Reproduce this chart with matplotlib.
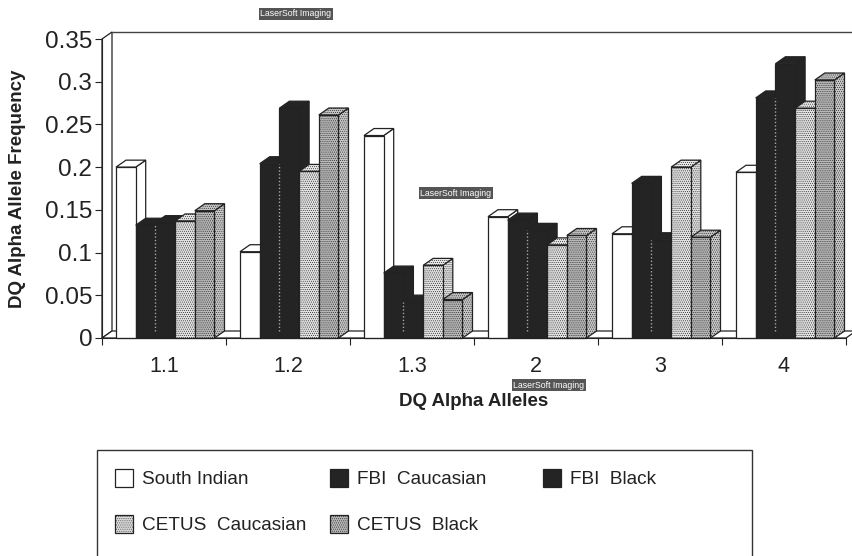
import matplotlib
matplotlib.use("Agg")
import matplotlib.pyplot as plt
from matplotlib.patches import Polygon, Rectangle

plt.rcParams["font.family"] = ["Liberation Sans", "DejaVu Sans"]
plt.rcParams["hatch.linewidth"] = 0.4

W, H = 853, 556

alleles = ["1.1", "1.2", "1.3", "2", "3", "4"]
south_indian = [0.200, 0.101, 0.237, 0.142, 0.122, 0.194]
fbi_caucasian = [0.132, 0.204, 0.076, 0.138, 0.181, 0.281]
fbi_black = [0.135, 0.269, 0.042, 0.126, 0.115, 0.321]
cetus_caucasian = [0.137, 0.195, 0.085, 0.109, 0.200, 0.269]
cetus_black = [0.149, 0.261, 0.045, 0.120, 0.118, 0.302]

series_names = ["South Indian", "FBI  Caucasian", "FBI  Black",
                "CETUS  Caucasian", "CETUS  Black"]
series_values = [south_indian, fbi_caucasian, fbi_black, cetus_caucasian, cetus_black]
yticks = [0, 0.05, 0.1, 0.15, 0.2, 0.25, 0.3, 0.35]
ytick_labels = ["0", "0.05", "0.1", "0.15", "0.2", "0.25", "0.3", "0.35"]

# front, top, side colours and hatch per series
styles = [
    ("white", "white", "white", None),
    ("#242424", "#242424", "#242424", None),
    ("#242424", "#242424", "#242424", None),
    ("#e2e2e2", "#e8e8e8", "#e2e2e2", "........"),
    ("#b8b8b8", "#c4c4c4", "#c8c8c8", "........"),
]
EDGE = "#222222"

fig = plt.figure(figsize=(W / 100, H / 100), dpi=100)
ax = fig.add_axes([102 / W, 1 - 338 / H, 744 / W, 299 / H])
ax.set_xlim(0, 6)
ax.set_ylim(0, 0.35)
ax.patch.set_visible(False)

# depth of the fake 3D box, px converted to data units
dx = 10 / 124
dy = 7 * 0.35 / 299
bar_w = 19.7 / 124
start = 14 / 124


def poly(points, fc, hatch=None, z=2, lw=0.9):
    p = Polygon(points, closed=True, facecolor=fc, edgecolor=EDGE, hatch=hatch,
                linewidth=lw, zorder=z, clip_on=False)
    ax.add_patch(p)


# back wall and floor
poly([(0, 0), (dx, dy), (dx, 0.35 + dy), (0, 0.35)], "white", z=1)
poly([(0, 0), (6, 0), (6 + dx, dy), (dx, dy)], "white", z=1)
ax.plot([dx, 6 + dx], [0.35 + dy, 0.35 + dy], color="#444444", lw=1.0, clip_on=False, zorder=1)

z = 3
for g in range(len(alleles)):
    for s, values in enumerate(series_values):
        v = values[g]
        x0 = g + start + s * bar_w
        x1 = x0 + bar_w
        front, top, side, hatch = styles[s]
        poly([(x1, 0), (x1 + dx, dy), (x1 + dx, v + dy), (x1, v)], side, hatch, z)
        poly([(x0, v), (x1, v), (x1 + dx, v + dy), (x0 + dx, v + dy)], top, hatch, z)
        poly([(x0, 0), (x1, 0), (x1, v), (x0, v)], front, hatch, z)
        z += 1
        # the scan leaves a speckled light seam between the two black bars
        if s == 1:
            seam_top = min(v, fbi_black[g])
            ax.plot([x1, x1], [0.008, seam_top], color="#a8a8a8", lw=1.0,
                    ls=(0, (1, 1.5)), zorder=40)

for name in ["top", "right"]:
    ax.spines[name].set_visible(False)
for name in ["left", "bottom"]:
    ax.spines[name].set_color(EDGE)
    ax.spines[name].set_zorder(50)

ax.set_xticks(range(len(alleles) + 1))
ax.set_xticklabels([""] * (len(alleles) + 1))
ax.set_xticks([i + 0.5 for i in range(len(alleles))], minor=True)
ax.set_xticklabels(alleles, minor=True, fontsize=15.5, color="#222222")
ax.tick_params(axis="x", which="minor", length=0, pad=13)
ax.tick_params(axis="x", which="major", length=5, color=EDGE)
ax.set_yticks(yticks)
ax.set_yticklabels(ytick_labels, fontsize=17.5, color="#222222")
ax.tick_params(axis="y", length=5, pad=2, color=EDGE)

fig.text(18 / W, 1 - 189 / H, "DQ Alpha Allele Frequency", rotation=90, ha="center", va="center",
         fontsize=13.5, fontweight="bold", color="#222222")
fig.text(474 / W, 1 - 402 / H, "DQ Alpha Alleles", ha="center", va="center",
         fontsize=13.5, fontweight="bold", color="#222222")

# legend box runs off the bottom of the scan
fig.add_artist(Rectangle((97 / W, -10 / H), 655 / W, 116 / H,
                         transform=fig.transFigure, facecolor="none", edgecolor="#333333",
                         linewidth=1.0))
legend_pos = [(115, 478), (330, 478), (543, 478), (115, 524), (330, 524)]
for (px, py), name, (front, _, _, hatch) in zip(legend_pos, series_names, styles):
    fig.add_artist(Rectangle((px / W, 1 - (py + 9) / H), 18 / W, 18 / H,
                             transform=fig.transFigure, facecolor=front, hatch=hatch,
                             edgecolor=EDGE, linewidth=0.9))
    fig.text((px + 27) / W, 1 - (py + 2) / H, name, ha="left", va="center", fontsize=13.7,
             color="#222222")

# scanner watermarks
for px, py in [(296, 14), (456, 193), (549, 385)]:
    fig.text(px / W, 1 - py / H, "LaserSoft Imaging", ha="center", va="center", fontsize=6.3,
             color="white", zorder=100,
             bbox=dict(facecolor="#555555", edgecolor="none", pad=1.0))

fig.savefig("out.png", dpi=100)
